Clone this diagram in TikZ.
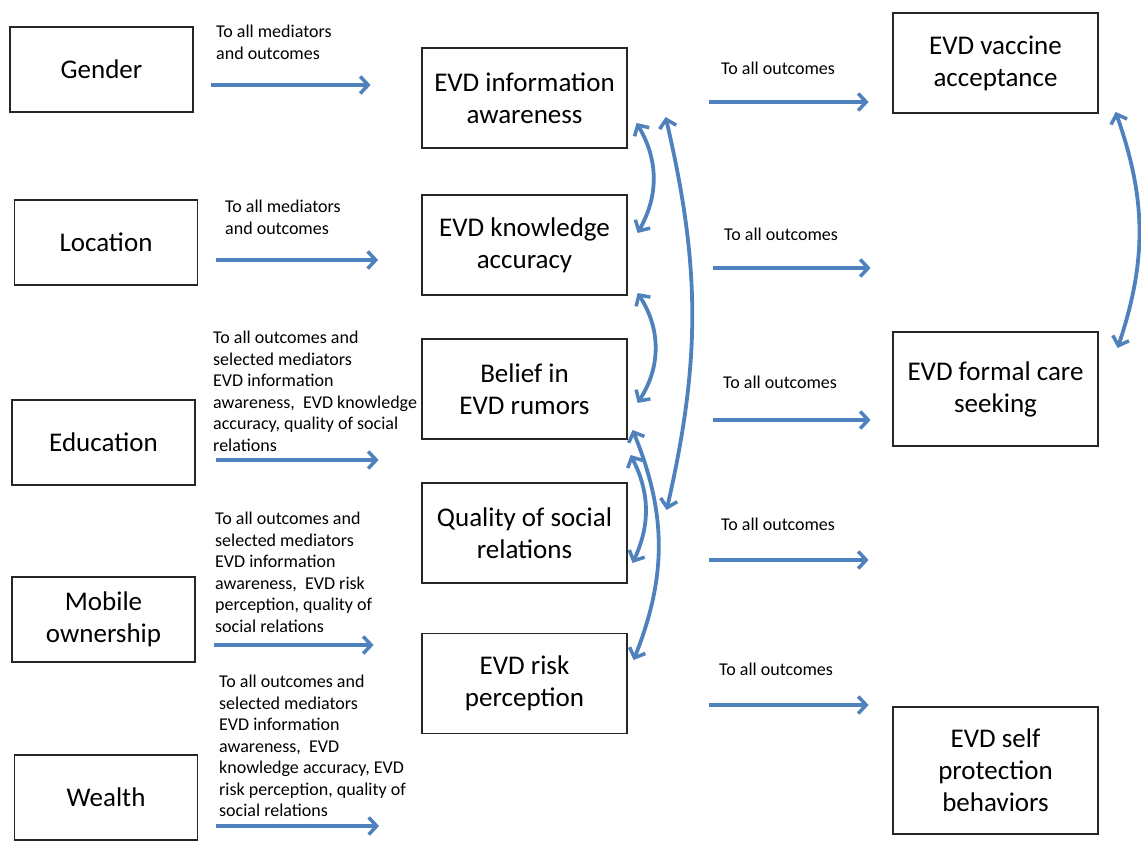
\documentclass[tikz,border=0pt]{standalone}
\usepackage{fontspec}
\setmainfont{Carlito}
\usepackage{tikz}
\usetikzlibrary{arrows.meta,positioning}

\definecolor{linkblue}{RGB}{79,129,189}

\tikzset{
  box/.style={draw=black!85, line width=1.2pt, align=center, inner sep=2pt,
              font=\fontsize{27}{32}\selectfont},
  predictor/.style={box, minimum width=183pt, minimum height=85pt},
  mediator/.style={box, minimum width=205pt, minimum height=100pt},
  outcome/.style={box, minimum width=205pt},
  note/.style={anchor=north west, align=left, inner sep=0pt,
               font=\fontsize{18}{21.5}\selectfont},
  link/.style={draw=linkblue, line width=3.8pt,
               -{Straight Barb[length=8pt,width=17pt,line width=3.5pt]}},
  twoway/.style={draw=linkblue, line width=3.8pt,
               {Straight Barb[length=8pt,width=17pt,line width=3.5pt]}-{Straight Barb[length=8pt,width=17pt,line width=3.5pt]}}
}

\begin{document}
\begin{tikzpicture}[x=1pt,y=1pt]
  \useasboundingbox (0,0) rectangle (1141,-842);

  % predictors
  \node[predictor] (gender)    at (101.5,-69.5) {Gender};
  \node[predictor] (location)  at (106,-242.5)  {Location};
  \node[predictor] (education) at (103.5,-442.5) {Education};
  \node[predictor] (mobile)    at (103.5,-619.5) {Mobile\\ownership};
  \node[predictor] (wealth)    at (106,-797.5)  {Wealth};

  % mediators
  \node[mediator] (info)   at (524.5,-98)    {EVD information\\awareness};
  \node[mediator] (know)   at (524.5,-245)   {EVD knowledge\\accuracy};
  \node[mediator] (belief) at (524.5,-389)   {Belief in\\EVD rumors};
  \node[mediator] (social) at (524.5,-533)   {Quality of social\\relations};
  \node[mediator] (risk)   at (524.5,-683.5) {EVD risk\\perception};

  % outcomes
  \node[outcome, minimum height=100pt] (vaccine)  at (995.5,-63)    {EVD vaccine\\acceptance};
  \node[outcome, minimum height=114pt] (care)     at (995.5,-389)   {EVD formal care\\seeking};
  \node[outcome, minimum height=127pt] (selfprot) at (995.5,-770.5) {EVD self\\protection\\behaviors};

  % notes on the predictor arrows
  \node[note] (n_gender)    at (216,-25)  {To all mediators\\and outcomes};
  \node[note] (n_location)  at (225,-200) {To all mediators\\and outcomes};
  \node[note] (n_education) at (213,-331) {To all outcomes and\\selected mediators\\EVD information\\awareness,~ EVD knowledge\\accuracy, quality of social\\relations};
  \node[note] (n_mobile)    at (215,-512) {To all outcomes and\\selected mediators\\EVD information\\awareness,~ EVD risk\\perception, quality of\\social relations};
  \node[note] (n_wealth)    at (219,-675) {To all outcomes and\\selected mediators\\EVD information\\awareness,~ EVD\\knowledge accuracy, EVD\\risk perception, quality of\\social relations};

  % notes on the outcome arrows
  \node[note] (o_info)   at (721,-62)  {To all outcomes};
  \node[note] (o_know)   at (724,-228) {To all outcomes};
  \node[note] (o_belief) at (723,-376) {To all outcomes};
  \node[note] (o_social) at (721,-518) {To all outcomes};
  \node[note] (o_risk)   at (719,-663) {To all outcomes};

  % predictor arrows
  \draw[link] ([shift={(17,-15.5)}]gender.east)    -- ++(160,0);
  \draw[link] ([shift={(18,-17.5)}]location.east)  -- ++(162,0);
  \draw[link] ([shift={(20,-17.5)}]education.east) -- ++(163,0);
  \draw[link] ([shift={(18,-25.5)}]mobile.east)    -- ++(160,0);
  \draw[link] ([shift={(18,-28.5)}]wealth.east)    -- ++(163,0);

  % outcome arrows
  \draw[link] ([shift={(81,-4)}]info.east)    -- ++(160,0);
  \draw[link] ([shift={(85,-23)}]know.east)   -- ++(158,0);
  \draw[link] ([shift={(85,-31)}]belief.east) -- ++(158,0);
  \draw[link] ([shift={(81,-27)}]social.east) -- ++(160,0);
  \draw[link] ([shift={(81,-21.5)}]risk.east) -- ++(160,0);

  % correlations between mediators
  \draw[twoway] ([shift={(9,-25)}]info.east)   to[bend left=30] ([shift={(10,12)}]know.east);
  \draw[twoway] ([shift={(38,-19)}]info.east)  to[bend left=13] ([shift={(39,23)}]social.east);
  \draw[twoway] ([shift={(10,-48)}]know.east)  to[bend left=33] ([shift={(10,-14)}]belief.east);
  \draw[twoway] ([shift={(5,-41)}]belief.east) to[bend left=22] ([shift={(6,23.5)}]risk.east);
  \draw[twoway] ([shift={(3,-66)}]belief.east) to[bend left=26] ([shift={(5,-30)}]social.east);

  % correlation between outcomes
  \draw[twoway] ([shift={(17,-49)}]vaccine.east) to[bend left=19] ([shift={(19,41)}]care.east);
\end{tikzpicture}
\end{document}
